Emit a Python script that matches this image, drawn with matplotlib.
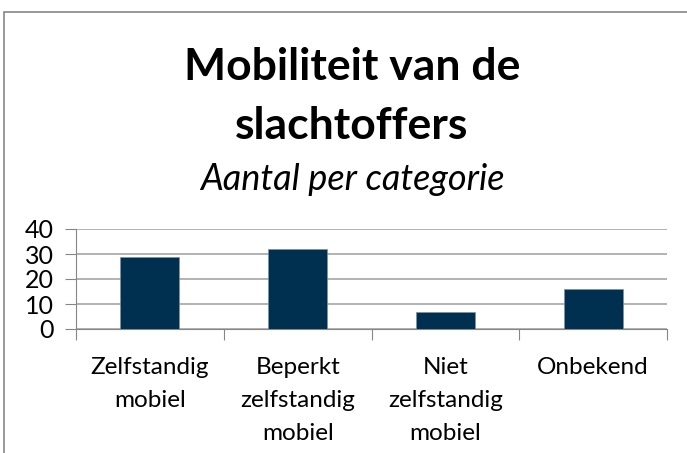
import matplotlib.pyplot as plt
from matplotlib.patches import Rectangle

categorieen = ['Zelfstandig\nmobiel', 'Beperkt\nzelfstandig\nmobiel', 'Niet\nzelfstandig\nmobiel', 'Onbekend']
aantallen = [29, 32, 7, 16]
yticks = [0, 10, 20, 30, 40]

W, H = 687, 453
fig = plt.figure(figsize=(W / 100, H / 100), dpi=100)
plt.rcParams['font.family'] = ['Lato', 'DejaVu Sans']

# kader om de grafiek
fig.patches.append(Rectangle((4 / W, -0.05), 1.0, 1 - 12 / H + 0.05, transform=fig.transFigure,
                             fill=False, edgecolor='#868686', linewidth=1.2))

ax = fig.add_axes([76 / W, 1 - 329 / H, (667 - 76) / W, 100 / H])
x = range(len(categorieen))
ax.bar(x, aantallen, width=0.4, color='#003050', edgecolor='#7f8fa0', linewidth=0.5, zorder=3)
ax.set_xlim(-0.5, len(categorieen) - 0.5)
ax.set_ylim(0, 40)
ax.set_yticks(yticks)
ax.set_yticklabels([str(v) for v in yticks], fontsize=18)
ax.set_xticks([i - 0.5 for i in range(len(categorieen) + 1)], minor=False)
ax.set_xticklabels([])
ax.set_xticks(list(x), minor=True)
ax.set_xticklabels(categorieen, minor=True, fontsize=17.5, linespacing=1.72, va='top')
ax.tick_params(axis='x', which='minor', length=0, pad=20)
ax.tick_params(axis='x', which='major', length=8, color='#868686', direction='out')
ax.tick_params(axis='y', length=8, color='#868686', direction='out', pad=8)
ax.grid(axis='y', color='#a6a6a6', linewidth=1.2, zorder=0)
for s in ['top', 'right']:
    ax.spines[s].set_visible(False)
ax.spines['left'].set_color('#868686')
ax.spines['bottom'].set_color('#868686')

fig.text(352 / W, 1 - 67 / H, 'Mobiliteit van de', ha='center', va='center', fontsize=32, fontweight='bold')
fig.text(352 / W, 1 - 126 / H, 'slachtoffers', ha='center', va='center', fontsize=32, fontweight='bold')
fig.text(352 / W, 1 - 180 / H, 'Aantal per categorie', ha='center', va='center', fontsize=26, fontstyle='italic')

fig.savefig('out.png', dpi=100)
